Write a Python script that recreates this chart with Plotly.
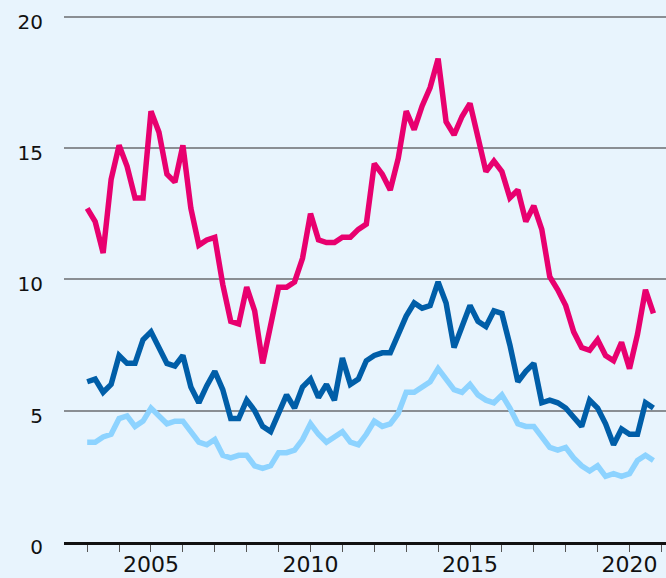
import plotly.graph_objects as go

# quarterly series, 2003 Q1 .. 2020 Q4
start_year = 2003
n_quarters = 72

pink_values = [
    12.7, 12.2, 11.0, 13.8, 15.1, 14.3, 13.1, 13.1, 16.4, 15.6, 14.0, 13.7,
    15.1, 12.7, 11.3, 11.5, 11.6, 9.8, 8.4, 8.3, 9.7, 8.8, 6.8, 8.2,
    9.7, 9.7, 9.9, 10.8, 12.5, 11.5, 11.4, 11.4, 11.6, 11.6, 11.9, 12.1,
    14.4, 14.0, 13.4, 14.6, 16.4, 15.7, 16.6, 17.3, 18.4, 16.0, 15.5, 16.2,
    16.7, 15.4, 14.1, 14.5, 14.1, 13.1, 13.4, 12.2, 12.8, 11.9, 10.1, 9.6,
    9.0, 8.0, 7.4, 7.3, 7.7, 7.1, 6.9, 7.6, 6.6, 7.9, 9.6, 8.7,
]
dark_blue_values = [
    6.1, 6.2, 5.7, 6.0, 7.1, 6.8, 6.8, 7.7, 8.0, 7.4, 6.8, 6.7,
    7.1, 5.9, 5.3, 5.95, 6.5, 5.8, 4.7, 4.7, 5.4, 5.0, 4.4, 4.2,
    4.9, 5.6, 5.1, 5.9, 6.2, 5.5, 6.0, 5.4, 7.0, 6.0, 6.2, 6.9,
    7.1, 7.2, 7.2, 7.9, 8.6, 9.1, 8.9, 9.0, 9.9, 9.1, 7.4, 8.2,
    9.0, 8.4, 8.2, 8.8, 8.7, 7.5, 6.1, 6.5, 6.8, 5.3, 5.4, 5.3,
    5.1, 4.75, 4.4, 5.4, 5.1, 4.5, 3.7, 4.3, 4.1, 4.1, 5.3, 5.1,
]
light_blue_values = [
    3.8, 3.8, 4.0, 4.1, 4.7, 4.8, 4.4, 4.6, 5.1, 4.8, 4.5, 4.6,
    4.6, 4.2, 3.8, 3.7, 3.9, 3.3, 3.2, 3.3, 3.3, 2.9, 2.8, 2.9,
    3.4, 3.4, 3.5, 3.9, 4.5, 4.1, 3.8, 4.0, 4.2, 3.8, 3.7, 4.1,
    4.6, 4.4, 4.5, 4.9, 5.7, 5.7, 5.9, 6.1, 6.6, 6.2, 5.8, 5.7,
    6.0, 5.6, 5.4, 5.3, 5.6, 5.1, 4.5, 4.4, 4.4, 4.0, 3.6, 3.5,
    3.6, 3.2, 2.9, 2.7, 2.9, 2.5, 2.6, 2.5, 2.6, 3.1, 3.3, 3.1,
]

tick_years = list(range(2003, 2022))
label_years = [2005, 2010, 2015, 2020]
y_ticks = [0, 5, 10, 15, 20]

quarters = [start_year + q / 4 for q in range(n_quarters)]

PINK = "#e8006f"
DARK_BLUE = "#005ea8"
LIGHT_BLUE = "#8dd3ff"
BG = "#e8f4fd"

fig = go.Figure()
for values, colour in [(light_blue_values, LIGHT_BLUE),
                       (dark_blue_values, DARK_BLUE),
                       (pink_values, PINK)]:
    fig.add_trace(go.Scatter(
        x=quarters, y=values, mode="lines",
        line=dict(color=colour, width=5.5),
        hoverinfo="skip", showlegend=False,
    ))

fig.update_layout(
    width=666, height=578,
    margin=dict(l=64, r=0, t=14, b=36),
    paper_bgcolor=BG, plot_bgcolor=BG,
    font=dict(family="DejaVu Sans", color="#111111"),
)
fig.update_xaxes(
    range=[2002.273, 2021.144],
    tickvals=tick_years,
    ticktext=[str(y) if y in label_years else "" for y in tick_years],
    ticks="outside", ticklen=7, tickwidth=1, tickcolor="#555555",
    tickfont=dict(size=22),
    showgrid=False, zeroline=False,
    showline=True, linecolor="#111111", linewidth=3,
    ticklabelstandoff=-6, automargin=False,
)
fig.update_yaxes(
    range=[0, 20.1],
    tickvals=y_ticks,
    tickfont=dict(size=20),
    showgrid=True, gridcolor="#8a8e93", gridwidth=1.5,
    zeroline=False, showline=False,
    ticks="", ticklabelstandoff=20, ticklabelshift=5,
    automargin=False,
)

# page body has a default 8px margin; drop it so the figure fills the window
fig.write_html(
    "out.html",
    config={"displayModeBar": False},
    post_script="document.body.style.margin='0';"
                "document.body.style.background='" + BG + "';",
)
